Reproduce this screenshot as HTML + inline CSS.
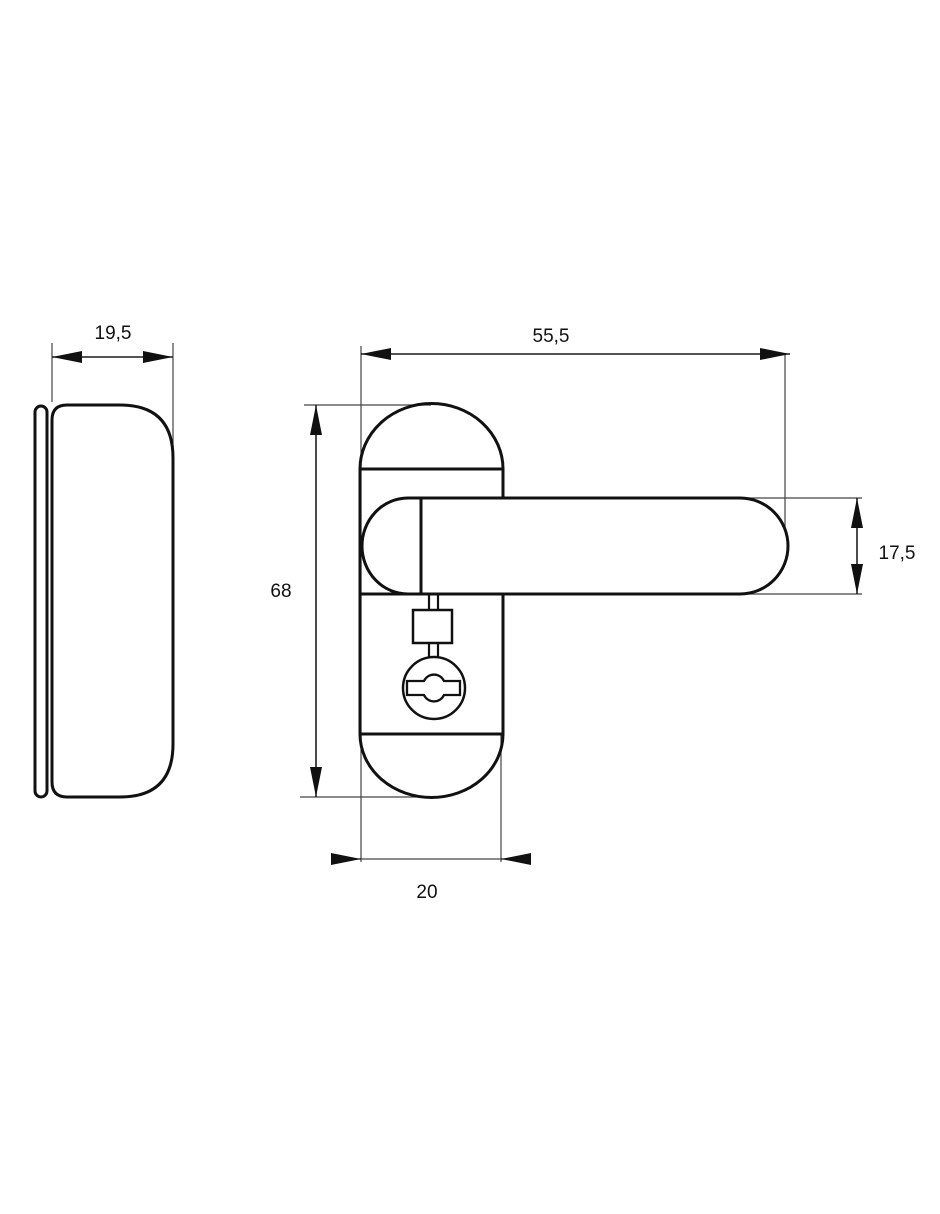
<!DOCTYPE html>
<html><head><meta charset="utf-8"><style>body{margin:0;background:#fff}svg{display:block}text{font-family:"Liberation Sans",sans-serif;font-size:19px;fill:#111}</style></head><body>
<svg width="940" height="1214" viewBox="0 0 940 1214">
<defs>
<marker id="a" viewBox="0 0 30 12" refX="30" refY="6" markerWidth="30" markerHeight="12" markerUnits="userSpaceOnUse" orient="auto"><path d="M0,0L30,6L0,12z" fill="#111"/></marker>
</defs>
<g stroke="#444" stroke-width="1.2" fill="none">
<line x1="52" y1="343" x2="52" y2="402"/><line x1="173" y1="343" x2="173" y2="450"/>
<line x1="361" y1="346" x2="361" y2="862"/><line x1="785" y1="355" x2="785" y2="528"/>
<line x1="304" y1="405" x2="431" y2="405"/><line x1="300" y1="797" x2="431" y2="797"/>
<line x1="748" y1="498" x2="862" y2="498"/><line x1="748" y1="594" x2="862" y2="594"/>
<line x1="501" y1="734" x2="501" y2="862"/>
<line x1="361" y1="859" x2="501" y2="859"/>
</g>
<g stroke="#111" stroke-width="1.3" fill="none">
<path d="M52,357L173,357" marker-end="url(#a)"/><path d="M173,357L52,357" marker-end="url(#a)"/>
<path d="M361,354L790,354" marker-end="url(#a)"/><path d="M790,354L361,354" marker-end="url(#a)"/>
<path d="M316,405L316,797" marker-end="url(#a)"/><path d="M316,797L316,405" marker-end="url(#a)"/>
<path d="M857,498L857,594" marker-end="url(#a)"/><path d="M857,594L857,498" marker-end="url(#a)"/>
<path d="M331,859L361,859" marker-end="url(#a)"/><path d="M529,859L501,859" marker-end="url(#a)"/>
</g>
<g stroke="#111" stroke-width="3" fill="none">
<rect x="35" y="406" width="12" height="391" rx="6"/>
<path d="M52,420Q52,405 67,405L120,405Q173,405 173,458L173,744Q173,797 120,797L67,797Q52,797 52,782Z"/>
<path d="M360,469A71,65 0 0 1 503,469"/>
<path d="M360,734A71,63 0 0 0 503,734"/>
<path d="M360,469L503,469L503,498M360,469L360,734L503,734L503,594M360,594L421,594"/>
<path d="M421,498L740,498A48,48 0 0 1 740,594L421,594Z"/>
<path d="M421,498L408,498A46,48 0 0 0 408,594L421,594"/>
<path d="M429,594V610M438,594V610M429,643V658M438,643V658" stroke-width="2.2"/>
<rect x="413" y="610" width="39" height="33" stroke-width="2.5"/>
<circle cx="434" cy="688" r="31" stroke-width="2.5"/>
<path d="M407,681H424A11,11 0 0 1 444,681H460V695H444A11,11 0 0 1 424,695H407Z" stroke-width="2.3"/>
</g>
<text x="113" y="339" text-anchor="middle">19,5</text>
<text x="551" y="342" text-anchor="middle">55,5</text>
<text x="281" y="597" text-anchor="middle">68</text>
<text x="897" y="559" text-anchor="middle">17,5</text>
<text x="427" y="898" text-anchor="middle">20</text>
</svg>
</body></html>
